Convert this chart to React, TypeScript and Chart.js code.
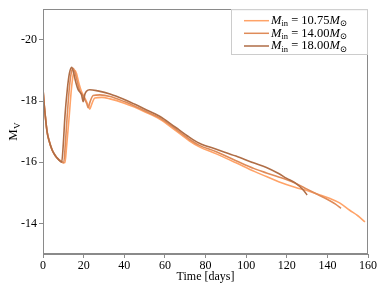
import { useEffect, useRef } from "react";
import { Chart, registerables } from "chart.js";

Chart.register(...registerables);

const seriesLabels = ["10.75", "14.00", "18.00"];
const seriesColors = ["#ffa368", "#df8b59", "#af6d46"];

const time1075 = [0, 0.5, 1, 2, 3, 4.5, 6, 7.5, 9.2, 10.2, 10.8, 11.6, 12.9, 14, 15, 15.7, 16.5, 17.6, 19, 20.2, 21.3, 22.3, 23, 24, 25.5, 29, 33, 40, 45, 50, 57.4, 65, 72, 77, 85, 95, 104, 110, 116, 124, 131, 136, 141, 146, 151, 155, 158.5];
const mag1075 = [-18.4, -17.95, -17.6, -17.0, -16.7, -16.4, -16.22, -16.1, -16.02, -15.98, -15.98, -16.5, -17.5, -18.4, -18.9, -19.0, -18.9, -18.6, -18.3, -18.15, -18.0, -17.85, -17.73, -17.9, -18.1, -18.12, -18.07, -17.93, -17.8, -17.65, -17.41, -17.05, -16.7, -16.5, -16.28, -15.98, -15.7, -15.53, -15.36, -15.18, -15.05, -14.94, -14.82, -14.67, -14.43, -14.25, -14.05];

const time1400 = [0, 0.5, 1, 2, 3, 4.5, 6, 7.5, 9.2, 10.2, 11, 11.9, 13, 14, 14.9, 15.7, 16.8, 18, 19.4, 20.6, 21.6, 22.2, 23.2, 24.7, 28, 33, 40, 45, 50, 57.4, 65, 72, 77, 85, 95, 104, 110, 116, 124, 130, 135, 141, 144, 146.7];
const mag1400 = [-18.4, -17.95, -17.6, -17.0, -16.7, -16.4, -16.22, -16.1, -16.02, -15.98, -16.6, -17.5, -18.45, -18.95, -19.07, -18.95, -18.65, -18.35, -18.2, -18.05, -17.9, -17.78, -17.98, -18.18, -18.2, -18.15, -17.98, -17.84, -17.68, -17.45, -17.1, -16.75, -16.55, -16.35, -16.05, -15.79, -15.65, -15.52, -15.32, -15.12, -14.95, -14.75, -14.63, -14.49];

const time1800 = [0, 0.5, 1, 2, 3, 4.5, 6, 7.5, 9.2, 10, 10.8, 12, 13, 14.1, 15, 16, 17.3, 18.3, 19, 19.8, 20.6, 21.4, 23, 27, 33, 40, 45, 50, 57.4, 65, 72, 77, 85, 95, 104, 110, 116, 120, 124, 128, 130];
const mag1800 = [-18.4, -17.95, -17.6, -17.0, -16.7, -16.4, -16.22, -16.1, -16.0, -16.6, -17.5, -18.4, -18.9, -19.1, -18.95, -18.65, -18.37, -18.28, -18.2, -17.98, -18.22, -18.32, -18.37, -18.33, -18.23, -18.05, -17.9, -17.74, -17.5, -17.15, -16.82, -16.62, -16.43, -16.2, -15.97, -15.83, -15.63, -15.47, -15.33, -15.1, -14.93];

const xTicks = [0, 20, 40, 60, 80, 100, 120, 140, 160];
const yTicks = [-20, -18, -16, -14];

const SERIF = "'Liberation Serif', 'DejaVu Serif', serif";
const AXIS_GREY = "#8a8a8a";

type Part = { text: string; italic?: boolean; sub?: boolean };

function drawParts(ctx: CanvasRenderingContext2D, x: number, y: number, parts: Part[], size: number, subSize: number, measureOnly = false): number {
  let cx = x;
  for (const p of parts) {
    const sz = p.sub ? subSize : size;
    ctx.font = `${p.italic ? "italic " : ""}${sz}px ${SERIF}`;
    const w = ctx.measureText(p.text).width;
    if (!measureOnly) ctx.fillText(p.text, cx, y + (p.sub ? size * 0.28 : 0));
    cx += w;
  }
  return cx - x;
}

const overlayPlugin = {
  id: "overlay",
  afterDraw(chart: any) {
    const ctx: CanvasRenderingContext2D = chart.ctx;
    const a = chart.chartArea;
    ctx.save();
    // frame
    ctx.strokeStyle = AXIS_GREY;
    ctx.lineWidth = 1;
    ctx.strokeRect(Math.round(a.left) + 0.5, Math.round(a.top) + 0.5, Math.round(a.right - a.left) - 1, Math.round(a.bottom - a.top) - 1);

    // legend
    const lx = 231, ly = a.top, lr = a.right, lb = 55;
    ctx.fillStyle = "rgba(255,255,255,0.9)";
    ctx.fillRect(lx, ly, lr - lx, lb - ly);
    ctx.strokeStyle = "#cccccc";
    ctx.strokeRect(lx + 0.5, ly + 0.5, lr - lx - 1, lb - ly - 1);
    const rows = [20.7, 33.3, 46];
    ctx.textBaseline = "middle";
    ctx.textAlign = "left";
    seriesLabels.forEach((lab, i) => {
      ctx.strokeStyle = seriesColors[i];
      ctx.lineWidth = 1.5;
      ctx.beginPath();
      ctx.moveTo(244, rows[i]);
      ctx.lineTo(269, rows[i]);
      ctx.stroke();
      ctx.fillStyle = "#000";
      drawParts(ctx, 271, rows[i], [
        { text: "M", italic: true },
        { text: "in", sub: true },
        { text: " = " + lab },
        { text: "M", italic: true },
        { text: "⊙", sub: true },
      ], 12.5, 8.5);
    });

    // x title
    ctx.fillStyle = "#000";
    ctx.font = `12px ${SERIF}`;
    ctx.textAlign = "center";
    ctx.textBaseline = "middle";
    ctx.fillText("Time [days]", (a.left + a.right) / 2, 277);

    // y title
    ctx.save();
    ctx.translate(14, (a.top + a.bottom) / 2);
    ctx.rotate(-Math.PI / 2);
    ctx.textAlign = "left";
    const parts: Part[] = [{ text: "M" }, { text: "V", sub: true }];
    const w = drawParts(ctx, 0, 0, parts, 13, 9, true);
    drawParts(ctx, -w / 2, 0, parts, 13, 9);
    ctx.restore();
    ctx.restore();
  },
};

export default function App() {
  const ref = useRef<HTMLCanvasElement | null>(null);
  useEffect(() => {
    if (!ref.current) return;
    const mk = (ts: number[], ms: number[]) => ts.map((t, i) => ({ x: t, y: ms[i] }));
    const sets = [
      { t: time1800, m: mag1800, c: seriesColors[2] },
      { t: time1400, m: mag1400, c: seriesColors[1] },
      { t: time1075, m: mag1075, c: seriesColors[0] },
    ];
    const chart = new Chart(ref.current, {
      type: "line",
      data: {
        datasets: sets.map((s) => ({
          data: mk(s.t, s.m),
          borderColor: s.c,
          borderWidth: 1.6,
          pointRadius: 0,
          fill: false,
          cubicInterpolationMode: "monotone" as const,
        })),
      },
      options: {
        animation: false,
        responsive: false,
        parsing: true,
        layout: { padding: { top: 8, right: 14, left: 0, bottom: 0 } },
        plugins: { legend: { display: false }, tooltip: { enabled: false } },
        scales: {
          x: {
            type: "linear",
            min: 0,
            max: 160,
            afterBuildTicks: (s: any) => { s.ticks = xTicks.map((v) => ({ value: v })); },
            afterFit: (s: any) => { s.height = 35; },
            ticks: { color: "#000", font: { family: SERIF, size: 12 }, padding: 1, maxRotation: 0 },
            grid: { drawOnChartArea: false, tickLength: 4, color: AXIS_GREY },
            border: { color: AXIS_GREY },
          },
          y: {
            type: "linear",
            min: -21,
            max: -13,
            reverse: true,
            afterBuildTicks: (s: any) => { s.ticks = yTicks.map((v) => ({ value: v })); },
            afterFit: (s: any) => { s.width = 43; },
            ticks: { color: "#000", font: { family: SERIF, size: 12 }, padding: 2 },
            grid: { drawOnChartArea: false, tickLength: 4, color: AXIS_GREY },
            border: { color: AXIS_GREY },
          },
        },
      },
      plugins: [overlayPlugin],
    });
    return () => chart.destroy();
  }, []);
  return (
    <div style={{ position: "absolute", left: 0, top: 0, width: 382, height: 289, background: "#fff" }}>
      <canvas ref={ref} width={382} height={289} style={{ width: 382, height: 289 }} />
    </div>
  );
}
